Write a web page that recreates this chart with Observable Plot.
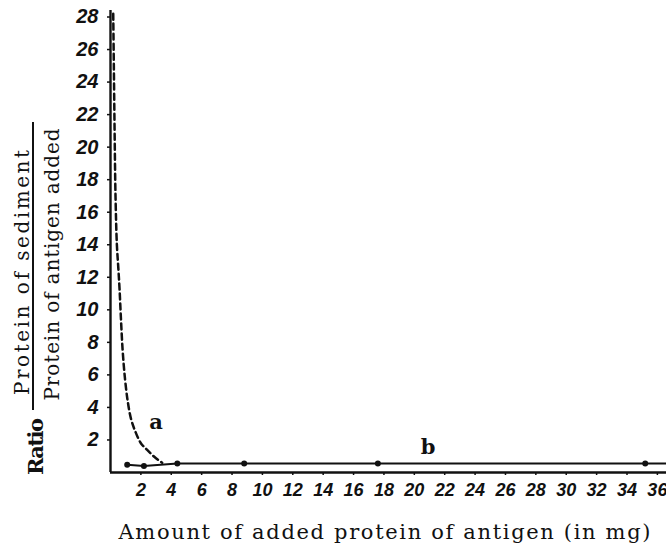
<!DOCTYPE html>
<html><head><meta charset="utf-8">
<script src="https://cdn.jsdelivr.net/npm/d3@7"></script>
<script src="https://cdn.jsdelivr.net/npm/@observablehq/plot@0.6"></script>
<style>body{margin:0;background:#fff}</style>
</head><body><div id="chart"></div>
<script>
// Curve a (dashed)
const aX = [0.18, 0.22, 0.27, 0.33, 0.42, 0.52, 0.6, 0.68, 0.8, 0.95, 1.13, 1.35, 1.6, 2.0, 2.4, 2.9, 3.4];
const aY = [28.2, 25, 21, 17, 14, 12.5, 11.2, 9.6, 7.5, 5.8, 4.4, 3.3, 2.6, 1.8, 1.4, 0.95, 0.6];
// Curve b (solid with dots)
const bX = [1.1, 2.2, 4.4, 8.8, 17.6, 35.2];
const bY = [0.48, 0.4, 0.55, 0.55, 0.55, 0.55];
const bLineEndX = 36.6;
const xTicks = [2,4,6,8,10,12,14,16,18,20,22,24,26,28,30,32,34,36];
const yTicks = [2,4,6,8,10,12,14,16,18,20,22,24,26,28];
const xTitle = "Amount of added protein of antigen (in mg)";
const yNumerator = "Protein of sediment";
const yDenominator = "Protein of antigen added";
const yRatio = "Ratio";
const labels = [{x: 3.0, y: 3.1, t: "a"}, {x: 20.9, y: 1.55, t: "b"}];

const aData = aX.map((x, i) => ({x, y: aY[i]}));
const bData = bX.map((x, i) => ({x, y: bY[i]}));
const bLine = [...bData, {x: bLineEndX, y: bY[bY.length - 1]}];

const ink = "#111";
const serif = "DejaVu Serif, Liberation Serif, serif";
const tickFont = "Liberation Sans, Arial, sans-serif";

const plot = Plot.plot({
  width: 666, height: 548,
  marginLeft: 110, marginRight: 0, marginTop: 10, marginBottom: 76,
  x: {domain: [0, 36.6]},
  y: {domain: [0, 28.4]},
  style: {background: "#fff", color: ink},
  marks: [
    Plot.axisX({ticks: xTicks, tickSize: 3, tickPadding: 8, fontSize: 18, fontStyle: "italic", fontWeight: "bold", fontFamily: tickFont, label: null, strokeWidth: 1.5}),
    Plot.axisY({ticks: yTicks, tickSize: 3, tickPadding: 9, fontSize: 20, fontStyle: "italic", fontWeight: "bold", fontFamily: tickFont, label: null, strokeWidth: 1.5}),
    Plot.ruleX([0], {stroke: ink, strokeWidth: 2.4}),
    Plot.ruleY([0], {stroke: ink, strokeWidth: 2.4}),
    Plot.line(aData, {x: "x", y: "y", stroke: ink, strokeWidth: 2.5, strokeDasharray: "6,4", curve: "catmull-rom"}),
    Plot.line(bLine, {x: "x", y: "y", stroke: ink, strokeWidth: 2}),
    Plot.dot(bData, {x: "x", y: "y", r: 3, fill: ink}),
    Plot.text(labels, {x: "x", y: "y", text: "t", fontSize: 21, fontWeight: "bold", fontFamily: serif, fill: ink}),
    Plot.text([xTitle], {frameAnchor: "bottom", textAnchor: "middle", dx: -4, dy: 66, fontSize: 21, fontFamily: serif, fill: ink}),
    Plot.text([yNumerator], {frameAnchor: "left", textAnchor: "middle", rotate: -90, dx: -88, dy: 31, fontSize: 20, fontFamily: serif, fill: ink}),
    Plot.text([yDenominator], {frameAnchor: "left", textAnchor: "middle", rotate: -90, dx: -58, dy: 23, fontSize: 20, fontFamily: serif, fill: ink}),
    Plot.text([yRatio], {frameAnchor: "left", textAnchor: "middle", rotate: -90, dx: -74, dy: 205, fontSize: 21, fontWeight: "bold", fontFamily: serif, fill: ink})
  ]
});
document.getElementById("chart").appendChild(plot);
const svg = d3.select(plot);
const stretch = (str, len) => svg.selectAll("text")
  .filter(function () { return this.textContent === str; })
  .attr("textLength", len).attr("lengthAdjust", "spacing");
stretch(xTitle, 532);
stretch(yNumerator, 245);
stretch(yDenominator, 272);
stretch(yRatio, 57);
// fraction bar of the y title
svg.append("line").attr("x1", 33).attr("x2", 33).attr("y1", 122).attr("y2", 410)
  .attr("stroke", ink).attr("stroke-width", 2);
</script>
</body></html>
